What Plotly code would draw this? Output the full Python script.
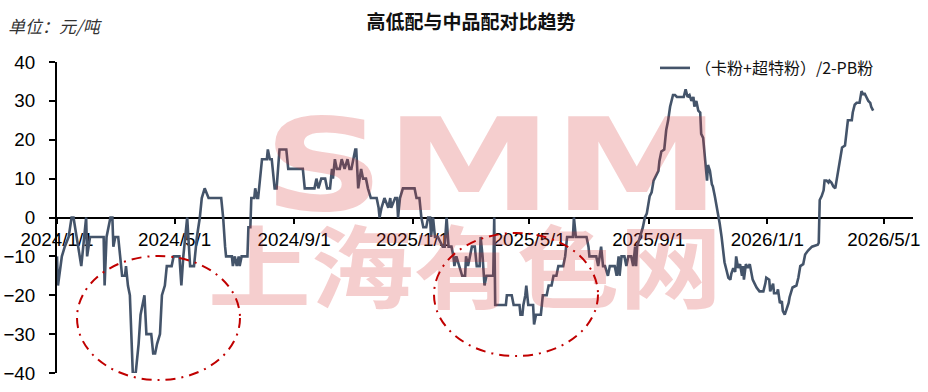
import base64
import pandas as pd
import plotly.graph_objects as go

# ---- data ----
# day offsets counted from 2024-01-01, and the series value on that day
day_offset = [
    0, 1, 5, 8, 12, 15, 17, 20, 25, 28, 30, 31, 34, 48, 49, 51, 55, 57, 58, 60,
    63, 65, 67, 70, 71, 73, 75, 78, 81, 84, 86, 90, 92, 97, 99, 101, 103, 106, 108, 111,
    113, 118, 120, 126, 128, 130, 134, 137, 141, 144, 147, 149, 152, 156, 169, 170, 171, 173, 174, 180,
    181, 183, 185, 187, 188, 190, 196, 197, 199, 200, 203, 204, 206, 207, 210, 211, 216, 217, 219, 221,
    224, 226, 229, 236, 238, 253, 255, 265, 267, 269, 272, 274, 276, 278, 281, 283, 284, 286, 288, 291,
    293, 296, 299, 301, 303, 307, 308, 310, 313, 315, 318, 320, 323, 329, 331, 332, 334, 337, 341, 343,
    344, 348, 350, 351, 353, 356, 368, 370, 373, 375, 377, 380, 382, 384, 385, 387, 389, 392, 397, 399,
    401, 403, 406, 408, 409, 411, 414, 417, 420, 421, 423, 425, 427, 430, 432, 435, 436, 438, 440, 442,
    449, 450, 451, 462, 463, 468, 470, 476, 477, 479, 480, 482, 483, 485, 490, 491, 493, 498, 500, 504,
    506, 509, 511, 514, 516, 521, 523, 525, 531, 532, 534, 545, 547, 548, 555, 557, 560, 562, 564, 567,
    569, 574, 576, 578, 579, 581, 584, 586, 588, 591, 593, 595, 596, 597, 600, 603, 605, 607, 610, 612,
    614, 617, 619, 620, 622, 625, 627, 629, 631, 634, 636, 638, 645, 647, 649, 651, 653, 655, 656, 658,
    660, 662, 663, 665, 667, 668, 669, 670, 672, 674, 675, 677, 679, 681, 682, 684, 686, 687, 689, 691,
    693, 694, 696, 698, 699, 701, 703, 705, 706, 707, 709, 711, 713, 715, 716, 718, 720, 723, 727, 729,
    730, 733, 734, 737, 738, 741, 742, 744, 746, 747, 749, 751, 753, 754, 757, 761, 763, 765, 768, 770,
    773, 777, 783, 784, 785, 787, 789, 790, 792, 794, 795, 797, 799, 801, 802, 804, 806, 808, 811, 813,
    814, 818, 819, 821, 823, 826, 828, 830, 831, 833, 835, 837, 838, 840,
]
spread = [
    -10, -17.5, -10, -7.5, -5, 0, 0, -5, -12.5, -5, 0, -10, -5, -5, -17.5, -5, 0, 0, -7.5, -5,
    -5, -10, -15, -15, -12.5, -17.5, -20, -40, -40, -32.5, -25, -20, -30, -30, -35, -35, -32.5, -30, -20, -17.5,
    -12.5, -12.5, -10, -10, -17.5, -10, 0, -12.5, -12.5, -5, 0, 5, 7.5, 5, 5, 2.5, 0, -7.5, -10, -10,
    -12.5, -10, -12.5, -10, -12.5, -10, -10, -2.5, -2.5, 5, 5, 7.5, 5, 5, 12.5, 15, 15, 17.5, 15, 15,
    7.5, 7.5, 17.5, 17.5, 12.5, 12.5, 7.5, 7.5, 10, 7.5, 10, 10, 10, 7.5, 7.5, 12.5, 10, 15, 12.5, 12.5,
    15, 12.5, 15, 12.5, 12.5, 17.5, 17.5, 7.5, 12.5, 10, 10, 7.5, 5, 5, 2.5, 0, 2.5, 5, 2.5, 5,
    2.5, 5, 5, 0, 5, 7.5, 7.5, 5, 5, 0, -2.5, -2.5, 0, 0, -5, 0, -5, -5, -7.5, -7.5,
    0, -7.5, -7.5, -10, -12.5, -10, -12.5, -15, -15, -10, -12.5, -10, -7.5, -7.5, -12.5, -12.5, -5, -10, -17.5, -15,
    -15, 0, -22.5, -22.5, -20, -20, -22.5, -22.5, -25, -25, -22.5, -20, -17.5, -22.5, -22.5, -27.5, -25, -25, -20, -20,
    -17.5, -17.5, -15, -15, -12.5, -12.5, -10, -5, -5, 0, -5, -5, -7.5, -10, -10, -12.5, -7.5, -12.5, -12.5, -15,
    -12.5, -12.5, -15, -10, -15, -10, -10, -12.5, -10, -10, -12.5, -7.5, -12.5, -7.5, -5, -2.5, 0, 1, 5.5, 6.5,
    9.5, 11, 12, 14.5, 17, 17.5, 22.5, 25, 28.5, 31.5, 31.5, 31, 31, 33, 31, 31.5, 30, 31, 28.5, 30,
    27.5, 27, 21.5, 20.5, 15, 14, 9.5, 13.5, 12, 8.5, 8, 5.5, 3, 0, -1.5, -5, -8.5, -11.5, -13.5, -15.5,
    -16, -14.5, -13, -14, -10, -13, -12, -15, -12.5, -16, -12, -13, -12, -14.5, -16, -17, -18, -19, -19, -17,
    -15.5, -16, -19, -17, -19.5, -19.5, -18.5, -22, -21.5, -24, -25, -23.5, -22, -20.5, -18, -17.5, -15.5, -12.5, -12, -9.5,
    -8.5, -7.5, -7, -6.5, 4.5, 5.5, 7, 9.5, 9.5, 9, 9.5, 9, 8, 7.5, 9, 11, 14, 18, 18.5, 22.5,
    25, 25, 27, 29, 29.5, 29.5, 32.5, 31.5, 32, 31, 30, 29.5, 28.5, 27.5,
]
assert len(day_offset) == len(spread)

series_name = "（卡粉+超特粉）/2-PB粉"
tick_dates = ["2024-01-01", "2024-05-01", "2024-09-01", "2025-01-01",
              "2025-05-01", "2025-09-01", "2026-01-01", "2026-05-01"]
tick_labels = ["2024/1/1", "2024/5/1", "2024/9/1", "2025/1/1",
               "2025/5/1", "2025/9/1", "2026/1/1", "2026/5/1"]
y_ticks = [-40, -30, -20, -10, 0, 10, 20, 30, 40]

dates = pd.Timestamp("2024-01-01") + pd.to_timedelta(day_offset, unit="D")

# ---- figure ----
W, H = 928, 392
L, R, T, B = 57, 15, 62, 19
PW, PH = W - L - R, H - T - B


def px_x(p):
    return (p - L) / PW


def px_y(p):
    return (H - B - p) / PH


fig = go.Figure()
fig.add_trace(go.Scatter(
    x=dates, y=spread, mode="lines", name=series_name,
    line=dict(color="#44546A", width=2.6),
))

CJK = "Noto Sans CJK SC"
LAT = "Liberation Sans, Arial, sans-serif"

fig.update_layout(
    width=W, height=H,
    margin=dict(l=L, r=R, t=T, b=B, pad=0, autoexpand=False),
    paper_bgcolor="white", plot_bgcolor="white",
    showlegend=True,
    legend=dict(x=px_x(655), y=px_y(51), xanchor="left", yanchor="top",
                font=dict(family=CJK, size=16, color="#111"),
                bgcolor="rgba(0,0,0,0)", itemwidth=30),
    title=dict(text="<b>高低配与中品配对比趋势</b>", x=471 / W, y=1 - 22 / H,
               xref="container", yref="container", xanchor="center", yanchor="middle",
               font=dict(family=CJK, size=19, color="#111")),
    xaxis=dict(
        range=["2024-01-01", "2026-05-31"], anchor="free", position=0.5,
        automargin=False,
        showline=True, linecolor="black", linewidth=2,
        ticks="outside", ticklen=5, tickwidth=2, tickcolor="black",
        tickvals=tick_dates, ticktext=tick_labels,
        showgrid=False, zeroline=False, layer="below traces",
        tickfont=dict(family=LAT, size=18.8, color="black"),
    ),
    yaxis=dict(
        range=[-40, 40], tickvals=y_ticks, automargin=False,
        showline=True, linecolor="black", linewidth=2,
        ticks="outside", ticklen=6, tickwidth=2, tickcolor="black",
        showgrid=False, zeroline=False, layer="below traces",
        tickfont=dict(family=LAT, size=18.8, color="black"),
        ticklabelstandoff=10,
    ),
)

# unit label
fig.add_annotation(text="<i>单位：元/吨</i>", xref="paper", yref="paper",
                   x=px_x(6), y=px_y(25), xanchor="left", yanchor="middle",
                   showarrow=False, font=dict(family=CJK, size=17, color="#333"))

# red dash-dot ellipses
for (x0, x1, y0, y1) in [(77, 240, 256, 380), (434, 598, 233, 356)]:
    fig.add_shape(type="circle", xref="paper", yref="paper",
                  x0=px_x(x0), x1=px_x(x1), y0=px_y(y1), y1=px_y(y0),
                  line=dict(color="#C00000", width=2, dash="10px,6px,2px,6px"))

# watermark as an SVG overlay (stretched text), drawn above the data
svg = (
    '<svg xmlns="http://www.w3.org/2000/svg" width="%d" height="%d" viewBox="0 0 %d %d">'
    '<g fill="rgb(215,50,50)" fill-opacity="0.24" font-weight="bold">'
    '<text x="263" y="210" font-family="DejaVu Sans, sans-serif" font-size="128" '
    'textLength="458" lengthAdjust="spacingAndGlyphs">SMM</text>'
    '<text x="208" y="262" dominant-baseline="central" font-family="Noto Sans CJK SC, sans-serif" '
    'font-size="90" textLength="514" lengthAdjust="spacingAndGlyphs">上海有色网</text>'
    '</g></svg>'
) % (W, H, W, H)
src = "data:image/svg+xml;base64," + base64.b64encode(svg.encode("utf-8")).decode("ascii")
fig.add_layout_image(dict(
    source=src, xref="paper", yref="paper",
    x=px_x(0), y=px_y(0), sizex=W / PW, sizey=H / PH,
    xanchor="left", yanchor="top", sizing="stretch", layer="above", opacity=1,
))

fig.write_html("out.html")
